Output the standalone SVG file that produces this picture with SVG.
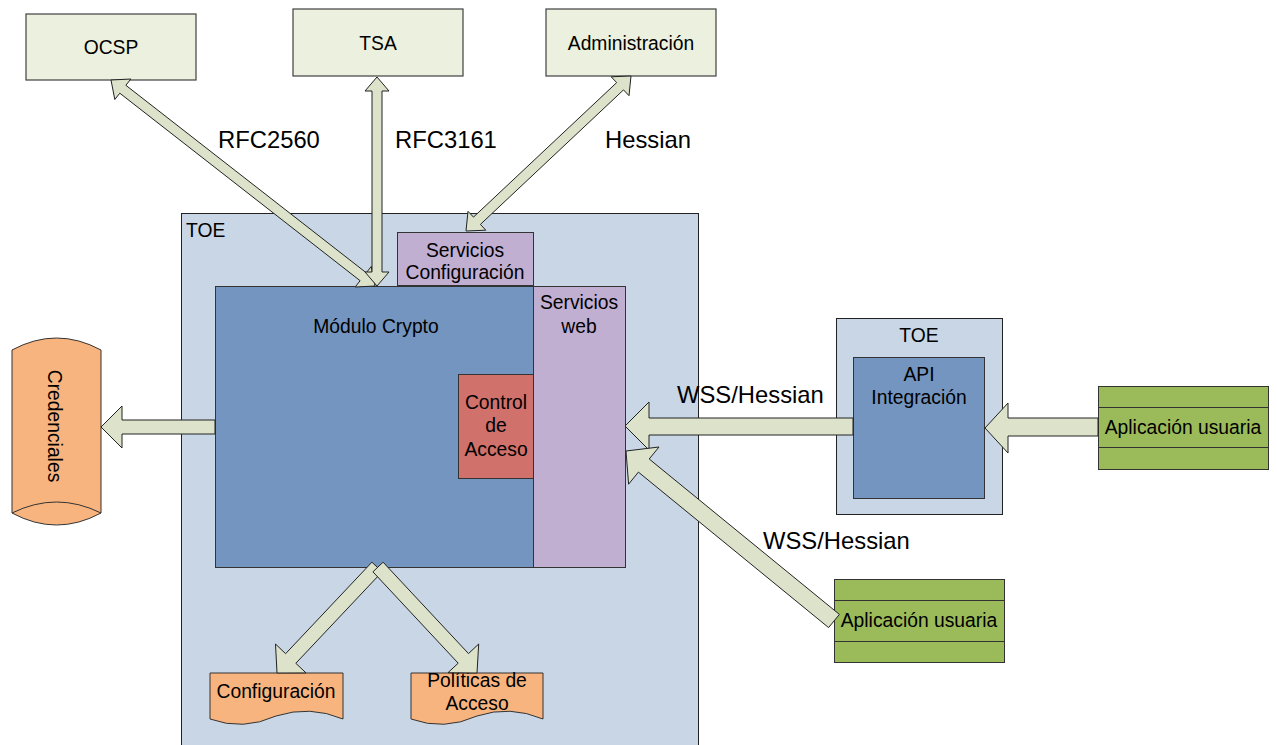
<svg xmlns="http://www.w3.org/2000/svg" width="1277" height="745" viewBox="0 0 1277 745">
<defs>
<style>
text{font-family:"Liberation Sans",Arial,sans-serif;fill:#000}
.n{font-size:19.3px;text-anchor:middle}
.lbl{font-size:23.8px}
.ext{fill:#ebf1de;stroke:#404040;stroke-width:1.2}
.toe{fill:#c8d6e6;stroke:#222;stroke-width:1}
.blue{fill:#7395c0;stroke:#333;stroke-width:1}
.purple{fill:#c1afd2;stroke:#333;stroke-width:1}
.red{fill:#d0716b;stroke:#333;stroke-width:1}
.orange{fill:#f8b47e;stroke:#333;stroke-width:1}
.green{fill:#9bbb5a;stroke:#333;stroke-width:1}
.arrow{fill:#dde3cb;stroke:#222;stroke-width:1;stroke-linejoin:miter}
</style>
</defs>
<rect width="1277" height="745" fill="#fff"/>

<g id="ocsp"><rect class="ext" x="26" y="14" width="170" height="66"/><text class="n" x="111" y="54">OCSP</text></g>
<g id="tsa"><rect class="ext" x="293" y="9" width="170" height="67"/><text class="n" x="378" y="50">TSA</text></g>
<g id="administracion"><rect class="ext" x="546" y="9" width="170" height="67"/><text class="n" x="631" y="50">Administración</text></g>

<g id="toe-main"><rect class="toe" x="181.5" y="213.5" width="517" height="540"/><text class="n" x="186" y="237" style="text-anchor:start">TOE</text></g>
<g id="servicios-configuracion"><rect class="purple" x="397.5" y="232.5" width="136" height="53"/><text class="n" x="465" y="257">Servicios</text><text class="n" x="465" y="279">Configuración</text></g>
<g id="modulo-crypto"><rect class="blue" x="215.5" y="286.5" width="318" height="281"/><text class="n" x="376" y="333">Módulo Crypto</text></g>
<g id="servicios-web"><rect class="purple" x="533.5" y="286.5" width="92" height="281"/><text class="n" x="579" y="309">Servicios</text><text class="n" x="579" y="333">web</text></g>
<g id="control-acceso"><rect class="red" x="458.5" y="374.5" width="75" height="104"/><text class="n" x="496" y="409">Control</text><text class="n" x="496" y="432">de</text><text class="n" x="496" y="456">Acceso</text></g>

<g id="credenciales"><path class="orange" d="M12,350 Q56.5,326 101,350 V513 Q56.5,537 12,513 Z"/><path d="M12,513 Q56.5,491 101,513" fill="none" stroke="#333" stroke-width="1"/><text class="n" transform="translate(48,426) rotate(90)">Credenciales</text></g>

<g id="configuracion"><path class="orange" d="M210,673 H343 V719 Q310,705 276,716 Q243,731 210,719 Z"/><text class="n" x="276" y="698">Configuración</text></g>
<g id="politicas-acceso"><path class="orange" d="M411,673 H543 V719 Q510,705 477,716 Q444,731 411,719 Z"/><text class="n" x="477" y="687">Políticas de</text><text class="n" x="477" y="710">Acceso</text></g>

<g id="toe-api"><rect class="toe" x="836.5" y="318.5" width="166" height="196"/><text class="n" x="919" y="342">TOE</text></g>
<g id="api-integracion"><rect class="blue" x="853.5" y="357.5" width="131" height="141"/><text class="n" x="919" y="381">API</text><text class="n" x="919" y="404">Integración</text></g>

<g id="aplicacion-usuaria-1"><rect class="green" x="1098.5" y="386.5" width="170" height="83"/><line x1="1098.5" y1="407.5" x2="1268.5" y2="407.5" stroke="#333"/><line x1="1098.5" y1="447.5" x2="1268.5" y2="447.5" stroke="#333"/><text class="n" x="1183" y="434">Aplicación usuaria</text></g>
<g id="aplicacion-usuaria-2"><rect class="green" x="834.5" y="579.5" width="170" height="83"/><line x1="834.5" y1="600.5" x2="1004.5" y2="600.5" stroke="#333"/><line x1="834.5" y1="641.5" x2="1004.5" y2="641.5" stroke="#333"/><text class="n" x="919" y="627">Aplicación usuaria</text></g>

<g id="connectors">
<polygon class="arrow" points="111,80 114.8,99.5 119.8,93.2 360.1,280.7 355.2,287 375,286 371.2,266.5 366.3,272.8 125.9,85.3 130.8,79"/>
<polygon class="arrow" points="377,77 365,91 372,91 372,272 365,272 377,286 389,272 382,272 382,91 389,91"/>
<polygon class="arrow" points="631,76 611.2,76.8 616.7,82.6 473.5,217.1 468,211.3 466,231 485.8,230.2 480.4,224.4 623.5,89.9 629,95.7"/>
<polygon class="arrow" points="215,420 122,420 122,406 101,427 122,448 122,434 215,434"/>
<polygon class="arrow" points="853,418 649,418 649,402 625,426 649,450 649,435 853,435"/>
<polygon class="arrow" points="1098,418 1008,418 1008,403 985,428 1008,453 1008,436 1098,436"/>
<polygon class="arrow" points="839.4,614.4 649.2,459 659,447 626,451 628.6,484.2 638.4,472.1 828.6,627.6"/>
<polygon class="arrow" points="371.9,562.2 285.6,653.7 275.5,644 277,673 306,672.9 295.8,663.3 382.1,571.8"/>
<polygon class="arrow" points="383.1,562.2 468.5,653.6 478.7,644 477,673 448,672.7 458.2,663.2 372.9,571.8"/>
<text class="lbl" x="218" y="148">RFC2560</text>
<text class="lbl" x="395" y="148">RFC3161</text>
<text class="lbl" x="605" y="148">Hessian</text>
<text class="lbl" x="677" y="403">WSS/Hessian</text>
<text class="lbl" x="763" y="549">WSS/Hessian</text>
</g>
</svg>
